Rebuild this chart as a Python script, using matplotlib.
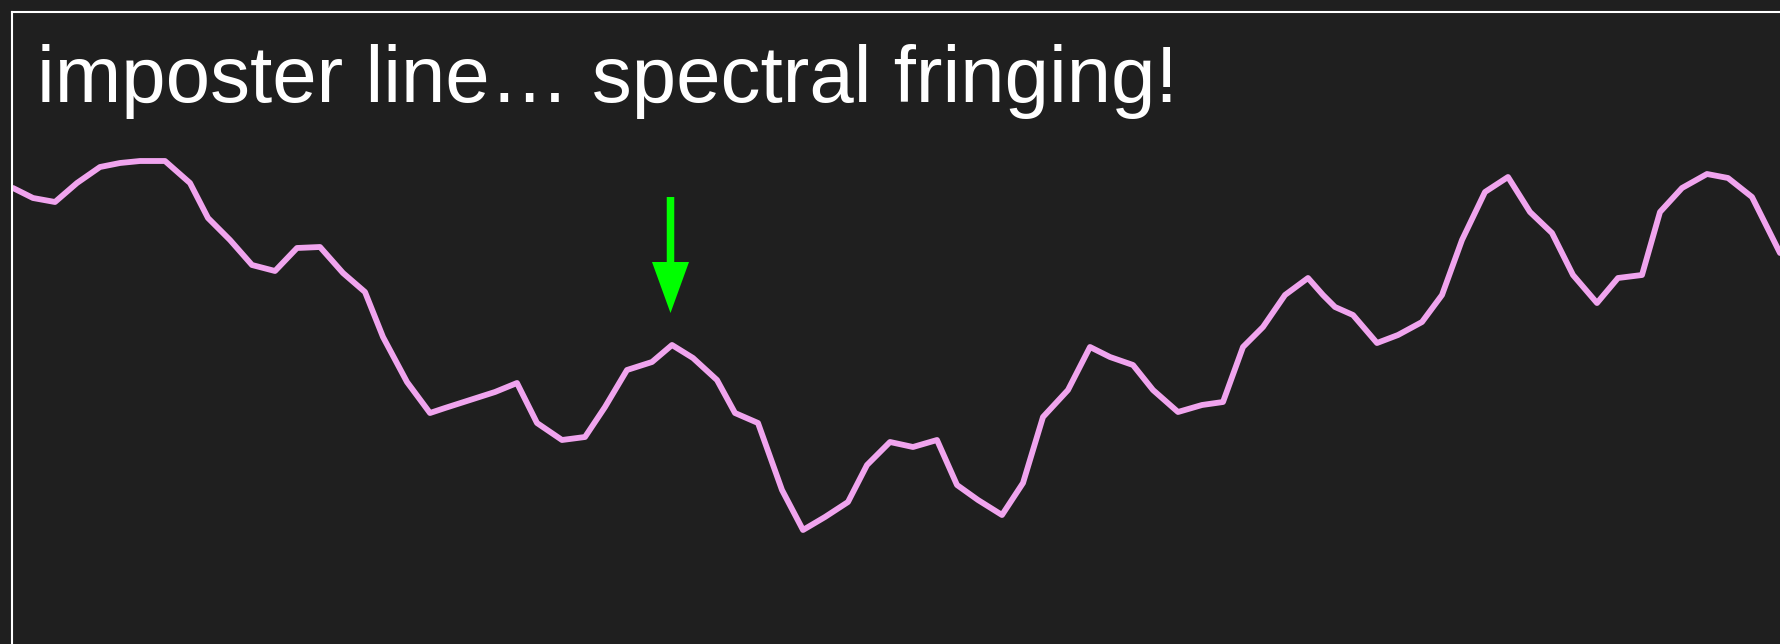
import numpy as np
import matplotlib.pyplot as plt

# spectrum trace (x: position along axis, y: height above bottom, in px units)
x_px = np.array([13, 33, 55, 77, 100, 120, 140, 165, 190, 208, 230, 252, 275, 297, 320,
                 343, 365, 383, 407, 430, 445, 495, 517, 537, 562, 585, 605, 627, 652,
                 672, 693, 717, 735, 758, 782, 803, 825, 848, 867, 890, 913, 937, 957,
                 978, 1002, 1023, 1043, 1068, 1090, 1110, 1133, 1153, 1178, 1202, 1223,
                 1243, 1263, 1285, 1308, 1323, 1335, 1353, 1377, 1398, 1422, 1442, 1462,
                 1485, 1508, 1530, 1552, 1573, 1597, 1618, 1642, 1660, 1682, 1707, 1728,
                 1752, 1780])
y_px = np.array([188, 198, 202, 183, 167, 163, 161, 161, 183, 218, 240, 265, 271, 248, 247,
                 273, 292, 337, 382, 413, 408, 392, 383, 423, 440, 437, 407, 370, 362,
                 345, 358, 380, 413, 423, 490, 530, 517, 502, 465, 442, 447, 440, 485,
                 500, 515, 483, 417, 390, 347, 357, 365, 390, 412, 405, 402,
                 347, 327, 295, 278, 295, 307, 315, 343, 335, 322, 295, 240,
                 192, 177, 212, 233, 275, 303, 278, 275, 212, 188, 174, 178,
                 197, 253])

W, H = 1780, 644
x0, y0 = 12, 12  # frame corner

wl = x_px - x0
flux = H - y_px

# arrow marking the imposter line
arrow_x = 670.5 - x0
arrow_top = H - 197
arrow_tip = H - 313

bg = '#1f1f1f'
fig = plt.figure(figsize=(W / 100, H / 100), dpi=100, facecolor=bg)
ax = fig.add_axes([x0 / W, 0, (W - x0) / W, (H - y0) / H])
ax.set_facecolor(bg)
ax.set_xlim(0, W - x0)
ax.set_ylim(0, H - y0)

ax.plot(wl, flux, color='#f0a4ee', lw=4.2, solid_joinstyle='round',
        solid_capstyle='round', zorder=2)

ax.arrow(arrow_x, arrow_top, 0, arrow_tip - arrow_top, width=7.5, head_width=37,
         head_length=51, length_includes_head=True, color='#00ff00', lw=0, zorder=3)

for s in ['top', 'left']:
    ax.spines[s].set_color('white')
    ax.spines[s].set_linewidth(1.5)
for s in ['bottom', 'right']:
    ax.spines[s].set_visible(False)
ax.set_xticks([])
ax.set_yticks([])

fig.text(37 / W, (H - 102) / H, 'imposter line\u2026 spectral fringing!', color='white',
         fontsize=57.5, family='Liberation Sans', va='baseline', ha='left')

fig.savefig('out.png', dpi=100, facecolor=bg)
